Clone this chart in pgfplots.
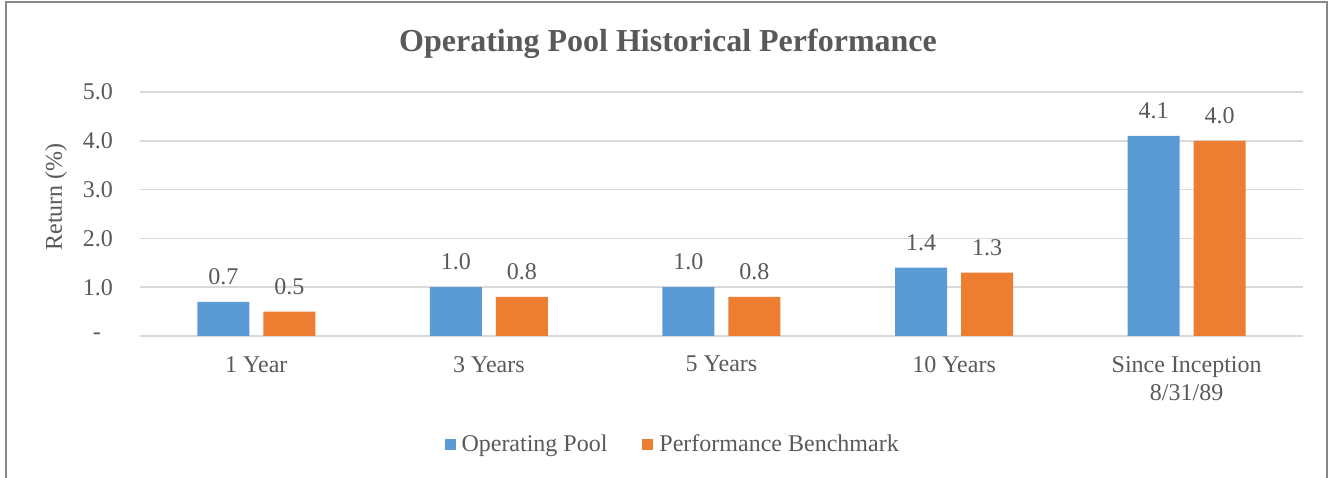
\documentclass[border=0pt]{standalone}
\usepackage{fontspec}
\setmainfont{Liberation Serif}
\usepackage{pgfplots}
\pgfplotsset{compat=1.18}
\definecolor{opblue}{HTML}{5B9BD5}
\definecolor{bmorange}{HTML}{ED7D31}
\definecolor{txtgray}{HTML}{595959}
\definecolor{gridgray}{HTML}{D9D9D9}
\definecolor{framegray}{HTML}{878787}
\begin{document}
\begin{tikzpicture}
\useasboundingbox (0bp,0bp) rectangle (1333bp,478bp);
\draw[framegray, line width=2bp] (6bp,0bp) -- (6bp,476bp) -- (1327bp,476bp) -- (1327bp,0bp);
\node[font=\fontsize{32bp}{38bp}\selectfont\bfseries, text=txtgray] at (668bp,434bp) {Operating Pool Historical Performance};
\begin{axis}[
  at={(140bp,142bp)}, anchor=south west,
  scale only axis, width=1163bp, height=244bp,
  xmin=-0.5, xmax=4.5, ymin=0, ymax=5,
  ybar=14bp, bar width=52bp,
  xtick={0,1,2,3,4},
  xticklabels={1 Year, 3 Years, 5 Years, 10 Years, {Since Inception\\8/31/89}},
  ytick={0,1,2,3,4,5},
  yticklabels={{-\hspace*{12bp}},1.0,2.0,3.0,4.0,5.0},
  major tick length=0pt,
  axis line style={draw=none},
  ymajorgrids, grid style={gridgray, line width=1.5bp},
  xticklabel style={font=\fontsize{24bp}{28bp}\selectfont, text=txtgray, align=center, inner sep=0pt, yshift=-20bp},
  yticklabel style={font=\fontsize{24bp}{28bp}\selectfont, text=txtgray, inner sep=0pt, xshift=-27bp},
  ylabel={Return (\%)},
  ylabel style={font=\fontsize{24bp}{28bp}\selectfont, text=txtgray, at={(axis description cs:0,0.5)}, anchor=center, yshift=84bp, xshift=17bp},
  nodes near coords={\pgfmathprintnumber[fixed,zerofill,precision=1,assume math mode=true]{\pgfplotspointmeta}},
  every node near coord/.append style={font=\fontsize{24bp}{28bp}\selectfont, text=txtgray, inner sep=0pt, yshift=17bp},
  legend columns=2,
  legend style={draw=none, fill=none, at={(0.458,-0.443)}, anchor=center,
    font=\fontsize{24bp}{28bp}\selectfont, text=txtgray,
    /tikz/every even column/.append style={column sep=33bp},
    /tikz/every odd column/.append style={column sep=4bp},
    nodes={inner sep=2bp}},
  legend image code/.code={\fill[#1] (0bp,-5.5bp) rectangle (11bp,5.5bp);},
]
\addplot[fill=opblue, draw=none] coordinates {(0,0.7) (1,1.0) (2,1.0) (3,1.4) (4,4.1)};
\addplot[fill=bmorange, draw=none] coordinates {(0,0.5) (1,0.8) (2,0.8) (3,1.3) (4,4.0)};
\legend{Operating Pool, Performance Benchmark}
\end{axis}
\end{tikzpicture}
\end{document}
